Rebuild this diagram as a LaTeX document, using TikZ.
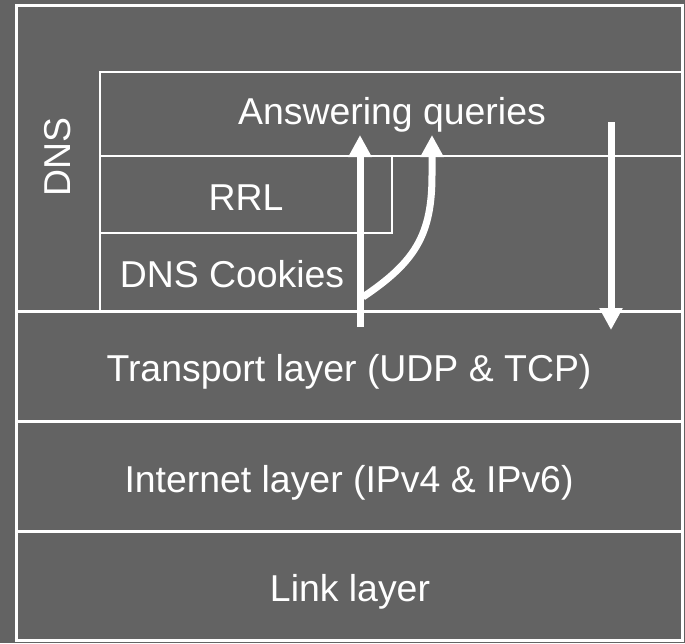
\documentclass[tikz,border=0pt]{standalone}
\usepackage{fontspec}
\setmainfont{Liberation Sans}
\usetikzlibrary{arrows.meta}
\definecolor{bggray}{RGB}{99,99,99}
\begin{document}
\begin{tikzpicture}[x=1pt,y=-1pt,white,font=\fontsize{37.4}{44}\selectfont,
	lbl/.style={anchor=base,text=white,inner sep=0pt},
	flow/.style={line width=7pt,-{Triangle[width=22pt,length=22pt]}}]
	\fill[bggray] (0,0) rectangle (685,643);
	\useasboundingbox (0,0) rectangle (685,643);
	% layer frame
	\draw[line width=3pt] (16,5) rectangle (682,640);
	\foreach \y in{311,421,531}{\draw[line width=3pt] (16,\y) -- (682,\y);}
	\draw[line width=2.5pt] (682,72) -| (100,311);
	\draw[line width=2.5pt] (100,156) -- (682,156);
	\draw[line width=2.5pt] (100,233) -| (392,156);
	% labels
	\node[lbl,rotate=90,anchor=center] (dns) at (58,157) {DNS};
	\node[lbl] (answer) at (392,124) {Answering queries};
	\node[lbl] (rrl) at (246,210) {RRL};
	\node[lbl] (cookies) at (232,287) {DNS Cookies};
	\node[lbl] (transport) at (349,381) {Transport layer (UDP \& TCP)};
	\node[lbl] (internet) at (349,492) {Internet layer (IPv4 \& IPv6)};
	\node[lbl] (link) at (350,601) {Link layer};
	% query flow
	\coordinate (upS) at (360,327);
	\coordinate (upE) at (360,135);
	\coordinate (fork) at (363,297);
	\coordinate (bendE) at (432,135);
	\coordinate (dnS) at (611,122);
	\coordinate (dnE) at (611,330);
	\draw[flow] (upS) -- (upE);
	\draw[flow] (fork) .. controls (415,262) and (432,235) .. (432,175) -- (bendE);
	\draw[flow] (dnS) -- (dnE);
\end{tikzpicture}
\end{document}
